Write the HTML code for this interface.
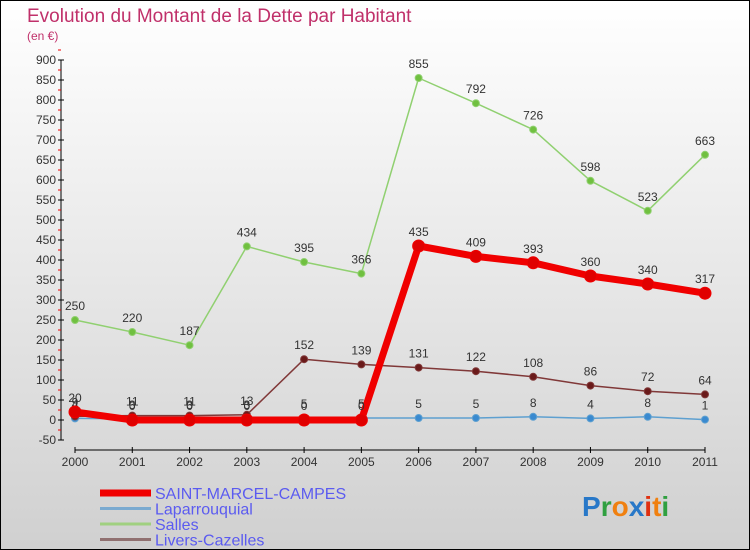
<!DOCTYPE html>
<html><head><meta charset="utf-8"><style>
body{margin:0;width:750px;height:550px;overflow:hidden;font-family:"Liberation Sans",sans-serif;}
#wrap{position:absolute;left:0;top:0;width:748px;height:548px;border:1px solid #000;background:linear-gradient(#ffffff,#d0d0d0);}
</style></head><body>
<div id="wrap">
<svg id="chart" width="750" height="550" style="position:absolute;left:-1px;top:-1px"></svg>
</div>
<script>
const years=["2000","2001","2002","2003","2004","2005","2006","2007","2008","2009","2010","2011"];
const saintMarcel=[20,0,0,0,0,0,435,409,393,360,340,317];
const laparrouquial=[4,3,3,3,5,5,5,5,8,4,8,1];
const salles=[250,220,187,434,395,366,855,792,726,598,523,663];
const livers=[9,11,11,13,152,139,131,122,108,86,72,64];
const yTicks=[-50,0,50,100,150,200,250,300,350,400,450,500,550,600,650,700,750,800,850,900];
const ns="http://www.w3.org/2000/svg";
const svg=document.getElementById('chart');
function X(i){return 75+i*(630/11);}
function Y(v){return 420-v*0.4;}
function mk(t,a,p){const e=document.createElementNS(ns,t);for(const k in a)e.setAttribute(k,a[k]);(p||svg).appendChild(e);return e;}
function txt(x,y,s,a){const e=mk('text',Object.assign({x:x,y:y},a));e.textContent=s;return e;}
let t=txt(27,22,"Evolution du Montant de la Dette par Habitant",{fill:"#c0306a","font-size":19});

t=txt(27,40,"(en €)",{fill:"#c0306a","font-size":12});

const ax=mk('g',{});
mk('line',{x1:61,y1:Y(900),x2:61,y2:Y(-50),stroke:"#000"},ax);
yTicks.forEach(v=>{mk('line',{x1:58,x2:64,y1:Y(v),y2:Y(v),stroke:"#000"},ax);
mk('line',{x1:58,x2:61,y1:Y(v+25),y2:Y(v+25),stroke:"#e00"},ax);
txt(56,Y(v)+4,String(v),{"text-anchor":"end","font-size":12,fill:"#333"},ax);});
const xa=mk('g',{});
mk('line',{x1:X(0),x2:X(11),y1:450,y2:450,stroke:"#000"},xa);
years.forEach((y,i)=>{mk('line',{x1:X(i),x2:X(i),y1:447,y2:453,stroke:"#000"},xa);
txt(X(i),466,y,{"text-anchor":"middle","font-size":12,fill:"#333"},xa);});
function series(name,d,col,w,r,dot){const g=mk('g',{});
mk('polyline',{points:d.map((v,i)=>X(i)+","+Y(v)).join(" "),fill:"none",stroke:col,"stroke-width":w,"stroke-linejoin":"round"},g);
d.forEach((v,i)=>{const c=mk('circle',{cx:X(i),cy:Y(v),r:r,fill:dot,stroke:col,"stroke-width":1},g);
txt(X(i),Y(v)-10,String(v),{"text-anchor":"middle","font-size":12,fill:"#333"},g);});}
series('series-laparrouquial',laparrouquial,"#5ea0d0",1.5,3.5,"#3a8ad0");
series('series-salles',salles,"#90d070",1.5,3.5,"#70c040");
series('series-livers-cazelles',livers,"#803838",1.5,3.5,"#6a1a1a");
series('series-saint-marcel-campes',saintMarcel,"#f00000",7,6,"#e00000");
const lg=[["SAINT-MARCEL-CAMPES","#f00000",7],["Laparrouquial","#7aaad0",3],["Salles","#a0d080",3],["Livers-Cazelles","#907070",3]];
lg.forEach((l,i)=>{const g=mk('g',{});
const y=493+i*15.5;mk('line',{x1:100,x2:151,y1:y,y2:y,stroke:l[1],"stroke-width":l[2]},g);
txt(155,y+6,l[0],{"font-size":16,fill:"#5b5bf0"},g);});
const lo=mk('text',{x:582,y:516,"font-size":28,"font-weight":"bold"});
[["P","#2878c8"],["r","#30a040"],["o","#f08010"],["x","#2878c8"],["i","#e03010"],["t","#f08010"],["i","#30a040"]].forEach(c=>{const s=mk('tspan',{fill:c[1]},lo);s.textContent=c[0];});
</script>
</body></html>
